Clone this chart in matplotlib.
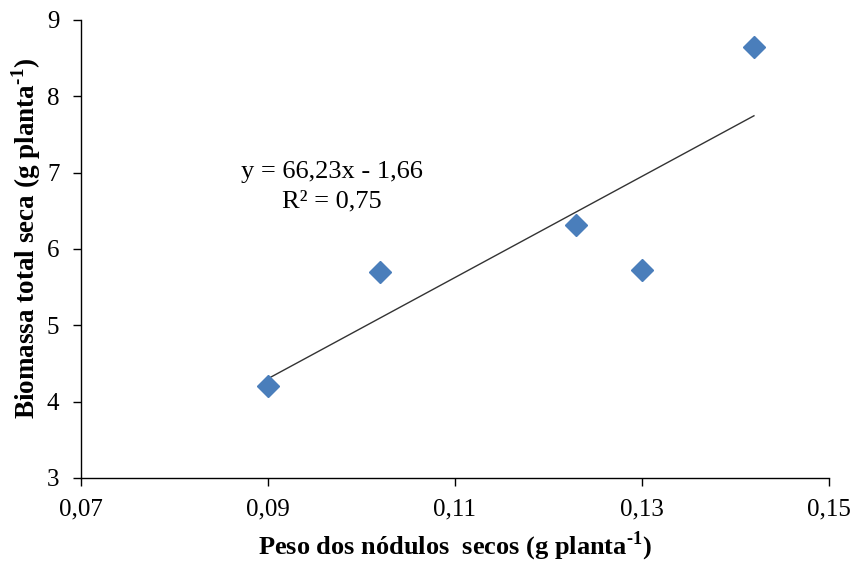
import matplotlib
matplotlib.use("Agg")
import matplotlib.pyplot as plt
import numpy as np

# Data
peso_nodulos = [0.090, 0.102, 0.123, 0.130, 0.142]
biomassa = [4.20, 5.70, 6.32, 5.73, 8.64]
slope = 66.23
intercept = -1.66
r2 = 0.75
x_ticks = [0.07, 0.09, 0.11, 0.13, 0.15]
y_ticks = [3, 4, 5, 6, 7, 8, 9]

plt.rcParams['font.family'] = ['Liberation Serif', 'DejaVu Serif']
plt.rcParams['mathtext.fontset'] = 'custom'
plt.rcParams['mathtext.rm'] = 'Liberation Serif:bold'
plt.rcParams['mathtext.bf'] = 'Liberation Serif:bold'

fig = plt.figure(figsize=(8.57, 5.62), dpi=100)
ax = fig.add_axes([0.0945, 0.1495, 0.8725, 0.815])

xs = np.array([min(peso_nodulos), max(peso_nodulos)])
ax.plot(xs, slope * xs + intercept, color='#333333', lw=1.0, zorder=2)
ax.plot(peso_nodulos, biomassa, linestyle='none', marker='D', ms=11.5,
        color='#4A7EBB', mec='#4A7EBB', zorder=3)

ax.set_xlim(0.07, 0.15)
ax.set_ylim(3, 9)
ax.set_xticks(x_ticks)
ax.set_xticklabels([f"{v:.2f}".replace('.', ',') for v in x_ticks])
ax.set_yticks(y_ticks)
ax.set_yticklabels([str(v) for v in y_ticks])
ax.tick_params(axis='both', labelsize=18, direction='out', length=6, width=1, color='black')
ax.tick_params(axis='x', pad=9)
ax.tick_params(axis='y', pad=9.5)

for s in ['top', 'right']:
    ax.spines[s].set_visible(False)
for s in ['left', 'bottom']:
    ax.spines[s].set_linewidth(1.0)

ax.set_xlabel(r'Peso dos nódulos  secos (g planta$^{\text{-1}}$)', fontsize=19,
              fontweight='bold', labelpad=6)
ax.set_ylabel(r'Biomassa total seca (g planta$^{\text{-1}}$)', fontsize=19.5,
              fontweight='bold', labelpad=3)
ax.yaxis.label.set_y(0.524)

eq = f"y = {slope:.2f}x - {abs(intercept):.2f}".replace('.', ',')
r2txt = f"R² = {r2:.2f}".replace('.', ',')
ax.text(0.0968, 7.01, eq, fontsize=19, ha='center', va='center')
ax.text(0.0968, 6.62, r2txt, fontsize=19, ha='center', va='center')

fig.savefig('out.png', dpi=100)
